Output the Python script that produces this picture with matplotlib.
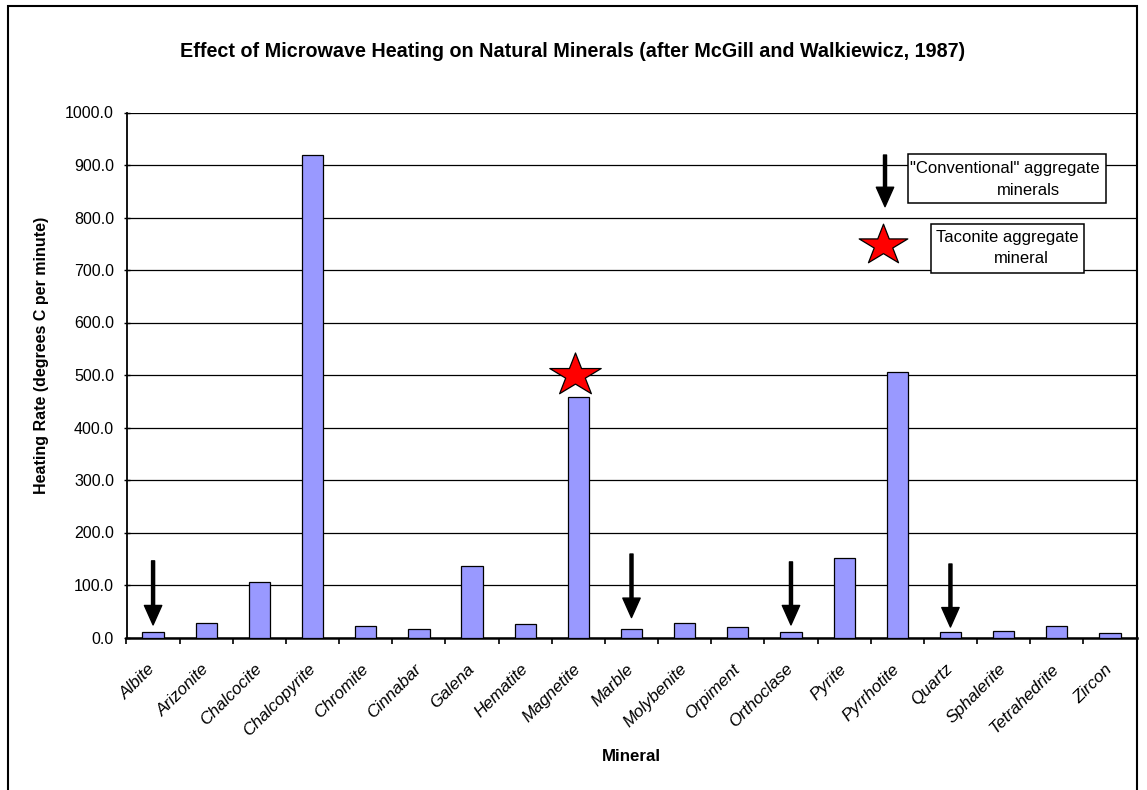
import numpy as np
import matplotlib
matplotlib.use("Agg")
import matplotlib.pyplot as plt
from matplotlib.path import Path
from matplotlib.patches import Rectangle

plt.rcParams["font.family"] = ["Liberation Sans", "DejaVu Sans"]

# Heating rate data
minerals = ["Albite", "Arizonite", "Chalcocite", "Chalcopyrite", "Chromite",
            "Cinnabar", "Galena", "Hematite", "Magnetite", "Marble",
            "Molybenite", "Orpiment", "Orthoclase", "Pyrite", "Pyrrhotite",
            "Quartz", "Sphalerite", "Tetrahedrite", "Zircon"]
rates = [11, 28, 106, 920, 21, 17, 137, 26, 458, 17,
         27, 20, 10, 151, 506, 11, 12, 21, 8]

# "conventional" aggregate minerals: arrow start and tip (heating rate units)
arrow_minerals = ["Albite", "Marble", "Orthoclase", "Quartz"]
arrow_top = [146, 159, 144, 140]
arrow_tip = [24, 38, 24, 20]

# taconite aggregate mineral: star
star_minerals = ["Magnetite"]
star_level = [500]

yticks = np.arange(0, 1001, 100)

# stretched five point star marker (like the Excel shape)
ang = np.pi / 2 + np.arange(10) * np.pi / 5
rad = np.where(np.arange(10) % 2 == 0, 1.0, 0.382)
verts = np.column_stack([1.2 * rad * np.cos(ang), rad * np.sin(ang)])
verts = np.vstack([verts, verts[:1]])
star = Path(verts, closed=True)

fig = plt.figure(figsize=(11.47, 7.9), dpi=100)
ax = fig.add_axes([126.5 / 1147, 152.5 / 790, 1010 / 1147, 525 / 790])

x = np.arange(len(minerals))
ax.bar(x, rates, width=0.4, color="#9999FF", edgecolor="black", linewidth=0.9, zorder=3)

ax.set_xlim(-0.5, len(minerals) - 0.5)
ax.set_ylim(0, 1000)
ax.set_yticks(yticks)
ax.set_yticklabels(["%.1f" % v for v in yticks], fontsize=11.5)
ax.yaxis.grid(True, color="black", linewidth=0.9, zorder=0)
ax.set_axisbelow(True)

ax.set_xticks(x)
ax.set_xticklabels(minerals, rotation=45, ha="right", va="center",
                   rotation_mode="anchor", fontsize=12.3, style="italic")
ax.set_xticks(np.arange(len(minerals) + 1) - 0.5, minor=True)
ax.tick_params(axis="x", which="major", length=0, pad=21)
ax.tick_params(axis="x", which="minor", length=4, width=1.2, direction="out")
ax.tick_params(axis="y", length=4, width=1, direction="inout", pad=7)

for s in ["top", "right"]:
    ax.spines[s].set_visible(False)
ax.spines["left"].set_linewidth(1.3)
ax.spines["bottom"].set_linewidth(1.8)

ax.set_xlabel("Mineral", fontsize=12.2, fontweight="bold", va="center")
ax.xaxis.set_label_coords(0.5, -0.2276)
ax.set_ylabel("Heating Rate (degrees C per minute)", fontsize=11.5,
              fontweight="bold", va="center", ha="center")
ax.yaxis.set_label_coords(-0.0837, 0.538)

arrow_style = dict(facecolor="black", edgecolor="black", width=2.2,
                   headwidth=12.5, headlength=14, shrink=0)
for m, top, tip in zip(arrow_minerals, arrow_top, arrow_tip):
    i = minerals.index(m)
    ax.annotate("", xy=(i, tip), xytext=(i, top), arrowprops=arrow_style, zorder=5)

for m, lev in zip(star_minerals, star_level):
    i = minerals.index(m) - 0.07
    ax.plot([i], [lev], marker=star, markersize=37, color="red",
            markeredgecolor="black", markeredgewidth=0.9, zorder=6, clip_on=False)

# legend boxes
ax.add_patch(Rectangle((0.7735, 0.827), 0.1963, 0.0934, transform=ax.transAxes,
                       facecolor="white", edgecolor="black", linewidth=1.1, zorder=7))
ax.text(0.7757, 0.8937, '"Conventional" aggregate', transform=ax.transAxes,
        fontsize=12, va="center", ha="left", zorder=8)
ax.text(0.8616, 0.851, "minerals", transform=ax.transAxes,
        fontsize=12, va="center", ha="left", zorder=8)
ax.annotate("", xy=(0.751, 0.8206), xytext=(0.751, 0.919),
            xycoords="axes fraction", arrowprops=arrow_style, zorder=8)

ax.add_patch(Rectangle((0.7962, 0.694), 0.1518, 0.093, transform=ax.transAxes,
                       facecolor="white", edgecolor="black", linewidth=1.1, zorder=7))
ax.text(0.801, 0.761, "Taconite aggregate", transform=ax.transAxes,
        fontsize=12, va="center", ha="left", zorder=8)
ax.text(0.859, 0.721, "mineral", transform=ax.transAxes,
        fontsize=12, va="center", ha="left", zorder=8)
ax.plot([0.7493], [0.7476], transform=ax.transAxes, marker=star, markersize=35,
        color="red", markeredgecolor="black", markeredgewidth=0.9, zorder=8)

fig.text(573 / 1147, 1 - 51.5 / 790,
         "Effect of Microwave Heating on Natural Minerals (after McGill and Walkiewicz, 1987)",
         ha="center", va="center", fontsize=14.2, fontweight="bold")

# chart border
fig.patches.append(Rectangle((8 / 1147, -0.02), 1129 / 1147, 1.02 - 6 / 790,
                             transform=fig.transFigure, fill=False,
                             edgecolor="black", linewidth=1.5))

fig.savefig("out.png", dpi=100)
